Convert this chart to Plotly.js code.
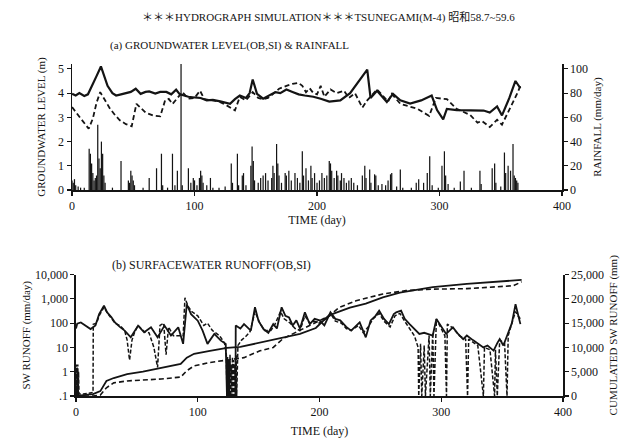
<!DOCTYPE html>
<html><head><meta charset="utf-8">
<script src="https://cdn.plot.ly/plotly-3.0.1.min.js"></script>
<style>html,body{margin:0;padding:0;background:#fff;}#chart{width:629px;height:440px;}</style>
</head><body><div id="chart"></div>
<script>
// ---------- (a) groundwater level (m) ----------
const gwObsDays = [0,3,6,10,13,16,20,23.6,26,29,33,36,40,44,48,52,56,60,63,68,72,77,81,85,88,90,95,100,105,110,115,121,126,129,133,137,142,145,147.5,151,156,161,166,170,175,180,185,190,197,203,210,219,227,241,243.7,249,257,262,268,276,285,293.6,298,303,306,314,325,336,341,347,351,357,362,366];
const gwObs = [3.97,3.9,4.0,3.88,3.95,4.3,4.7,5.1,4.7,4.3,4.0,3.9,3.95,4.0,4.05,4.18,3.97,4.05,4.07,3.98,4.05,4.05,3.95,4.14,3.95,3.92,3.85,3.82,3.8,3.7,3.72,3.66,3.6,3.56,3.75,3.9,3.8,4.0,4.56,3.97,3.77,3.9,4.04,4.0,4.15,4.05,3.95,3.9,3.85,3.77,3.65,3.7,4.0,4.97,3.8,4.1,3.63,3.97,3.7,3.57,3.7,3.9,3.3,2.92,3.35,3.3,3.28,3.28,3.2,3.45,3.08,3.8,4.5,4.2];
const gwSimDays = [0,4,7,10,13.6,17,20,23,27,31,35,39,44,48.7,52.6,56,60,66,72,76,79,82,86,90,95,100,104.5,108,115,121,126,133,137,142,147.5,152,156,160,165,169,175,180,185,188,191,194,197,200,203,206,211,216,222,226,231,237,241,249,258,261,268,282,291.6,297,306,314,325,331,334.6,341,347,351,363.6,366];
const gwSim = [3.42,3.15,2.95,2.75,2.53,2.95,3.6,4.04,3.7,3.36,3.1,2.88,2.72,2.63,3.56,3.4,3.2,3.08,3.04,3.7,3.76,3.55,3.8,4.04,3.77,3.8,4.1,3.75,3.7,3.63,3.5,3.29,3.84,3.7,4.04,3.8,3.75,3.8,4.0,4.18,4.3,4.38,4.42,4.3,4.04,4.2,4.0,3.95,4.3,3.85,4.15,4.0,4.1,3.8,4.0,3.4,3.7,4.15,3.65,3.97,3.56,3.35,3.06,3.8,3.75,3.35,3.1,2.78,2.85,2.6,2.9,2.7,4.0,4.3];
// rainfall (mm/day)
const rainDays = [0,1,2,3,5,7,10,14,15,16,17,18,19,20,21,22,23,24,25,26,27,33,40,46,47,48,49,50,51,58,63,69,73,74,78,82,84,86,89,90,95,97,99,100,102,104,105,106,107,110,113,115,120,125,130,131,135,136,139,140,142,146,147,148,149,152,154,156,158,160,163,164,165,167,168,169,171,174,175,177,179,182,184,186,188,189,191,193,195,196,198,200,202,204,206,208,210,211,212,214,216,217,219,220,222,224,226,228,230,233,237,239,240,243,244,247,248,250,253,256,258,260,261,265,268,270,277,281,283,287,290,292,294,299,302,304,305,307,312,317,320,326,333,334,343,345,346,350,353,354,356,358,360,361,362,363,364];
const rainVals = [8,6,9,4,3,2,2,34,30,22,14,8,10,12,54,26,18,40,30,12,6,2,24,8,6,16,12,8,4,2,10,18,30,4,2,30,4,16,104,4,18,6,10,8,4,10,16,12,6,4,10,2,2,3,22,6,30,4,12,14,4,20,36,24,8,6,10,12,14,8,10,20,14,38,22,12,6,14,12,16,8,14,10,6,32,12,18,8,20,10,14,6,8,14,10,12,24,22,16,10,16,12,8,14,10,6,8,10,6,4,12,20,10,17,6,13,12,4,5,4,8,13,14,3,17,2,2,6,9,6,14,28,4,2,20,32,12,5,2,7,16,2,16,5,18,22,6,3,31,14,20,16,38,12,10,8,6];

// ---------- (b) surface water runoff ----------
const roObsDays = [0,1,4,8,12,16,19,23,25.6,29,32,36,40,45,51,56,61.6,67,72.7,78,84,88,91,94.5,100,104,108,113.6,119,123,124,131,131.2,135,138,143.6,147,150,154,158,162,165,168.9,172,175,178,181,184,188,192,196,200,204,209,213,217,222,226,230,233,238,242,246,249,253,257,261,263,267,270,274,278,282,286,289,293,296,300,304,309.6,314,318,321,326,330,334.6,338,343,346,348,351,354,358,361,363,365];
const roObs = [60,95,107,80,57,80,235,520,275,180,107,70,49,26,79,42,67,26,79,31,67,14,600,235,126,49,14,36,19,14,0.1,0.1,80,60,91,49,450,120,57,40,91,60,450,200,170,80,130,60,280,91,150,130,80,280,150,130,70,49,80,107,26,130,200,325,150,91,235,280,325,150,91,60,36,40,36,31,148,70,36,67,35,22,31,20,15,10,12,7.4,15,22,12,31,100,600,250,91];
const roSimDays = [0,0.3,0.6,0.9,1.2,1.5,1.8,2.1,2.5,6,10,14,14.2,17,19,23,26,32,36,40,42,44,46,48,51,56,60,64,67,69,72,74,76,80,85,88,89.5,92,95,100,105,108,112,118,122,123.5,124,124.5,125,125.5,126,126.5,127,127.5,128,128.5,129,129.5,130,130.5,131,131.5,132,133,136,140,143,147,151,155,160,163,168,171,176,180,184,188,192,196,200,205,209,213,218,222,226,232,236,240,244,249,253,258,262,266,270,274,278,281,281.5,283,284,286,287,290,291,293,294,296,300,303,304.3,305,310,315,320,321.6,322.5,330,334.6,335.5,340,343.8,344.5,346,348,352,354,355,358,361,363,365];
const roSim = [0.1,2,0.1,1.5,0.1,2,0.1,1,0.12,0.12,0.13,0.14,90,100,200,450,250,100,80,50,20,3,20,40,80,45,40,10,1.5,80,100,5,70,30,30,30,1100,500,300,200,80,100,50,30,15,5,0.1,4,0.1,3,0.1,5,0.1,2,0.1,4,0.1,3,0.1,2,0.1,5,0.1,12,20,30,45,300,100,50,50,80,300,150,100,60,50,200,100,120,100,150,250,120,100,60,50,80,40,70,150,250,120,70,200,250,120,60,30,10,0.1,14,0.1,12,0.1,31,0.1,40,0.1,148,60,30,0.1,91,60,30,22,0.1,22,12,0.1,10,8,0.1,8,0.1,20,15,0.1,31,100,300,200,150];
// cumulated runoff (mm)
const cumObsDays = [0,7,14,20,25,31,42,55,67,86,91,97,110,124,135,151,165,184,197,206,211,225,238,252,266,280,293,321,348,366];
const cumObs = [0,150,400,1000,3100,3700,4500,5000,5600,6600,7900,8700,9300,9900,10100,11000,11800,12800,14000,16200,16900,18200,19000,20300,21300,21900,22400,23100,23600,23900];
const cumSimDays = [0,14,20,25,31,42,70,86,91,97,110,124,138,151,162,170,189,208,216,230,252,271,293,321,359,366];
const cumSim = [0,0,200,1700,2700,3100,3500,3900,5200,6200,6900,7400,7900,9300,10000,11800,14100,16500,18200,19600,21000,21700,22000,22100,22700,23500];

// tick labels
const xTicks = [0,100,200,300,400];
const gwTicks = [0,1,2,3,4,5];
const rainTicks = [0,20,40,60,80,100];
const roTickVals = [0.1,1,10,100,1000,10000];
const roTickText = ['.1','1','10','100','1,000','10,000'];
const cumTickVals = [0,5000,10000,15000,20000,25000];
const cumTickText = ['0','5,000','10,000','15,000','20,000','25,000'];

const INK = '#141414';
const FONT = 'Liberation Serif, DejaVu Serif, serif';

const traces = [
  {x: rainDays, y: rainVals, type:'bar', xaxis:'x', yaxis:'y2', width:1.0, marker:{color:INK, line:{width:0}}, hoverinfo:'skip'},
  {x: gwObsDays, y: gwObs, type:'scatter', mode:'lines', xaxis:'x', yaxis:'y', line:{color:INK, width:2.2}},
  {x: gwSimDays, y: gwSim, type:'scatter', mode:'lines', xaxis:'x', yaxis:'y', line:{color:INK, width:1.8, dash:'5px,3px'}},
  {x: roObsDays, y: roObs, type:'scatter', mode:'lines', xaxis:'x2', yaxis:'y3', line:{color:INK, width:1.8}},
  {x: roSimDays, y: roSim, type:'scatter', mode:'lines', xaxis:'x2', yaxis:'y3', line:{color:INK, width:1.5, dash:'4px,2px'}},
  {x: cumObsDays, y: cumObs, type:'scatter', mode:'lines', xaxis:'x2', yaxis:'y4', line:{color:INK, width:1.8}},
  {x: cumSimDays, y: cumSim, type:'scatter', mode:'lines', xaxis:'x2', yaxis:'y4', line:{color:INK, width:1.6, dash:'5px,3px'}}
];

const axBase = {showgrid:false, zeroline:false, showline:true, linecolor:INK, linewidth:1.5,
  ticks:'outside', ticklen:4, tickwidth:1.2, tickcolor:INK, tickfont:{family:FONT, size:12, color:INK}};

const layout = {
  width:629, height:440, margin:{l:0,r:0,t:0,b:0}, paper_bgcolor:'#fff', plot_bgcolor:'rgba(0,0,0,0)',
  showlegend:false, font:{family:FONT, color:INK},
  title:{text:'＊＊＊HYDROGRAPH SIMULATION＊＊＊TSUNEGAMI(M-4) 昭和58.7~59.6', x:0.522, xanchor:'center', y:0.962, yanchor:'middle',
         font:{family:'Liberation Serif, Noto Sans CJK JP, serif', size:11, color:INK}},
  xaxis: Object.assign({}, axBase, {domain:[0.1145,0.8935], range:[0,400], anchor:'y', tickvals:xTicks,
         title:{text:'TIME (day)', font:{family:FONT,size:12,color:INK}, standoff:0}}),
  yaxis: Object.assign({}, axBase, {domain:[0.568,0.8545], range:[0,5.2], anchor:'x', tickvals:gwTicks,
         title:{text:'GROUNDWATER LEVEL (m)', font:{family:FONT,size:11,color:INK}, standoff:10}}),
  yaxis2: Object.assign({}, axBase, {overlaying:'y', side:'right', range:[0,104], anchor:'x', tickvals:rainTicks,
         title:{text:'RAINFALL (mm/day)', font:{family:FONT,size:11,color:INK}, standoff:6}}),
  xaxis2: Object.assign({}, axBase, {domain:[0.1208,0.8951], range:[0,400], anchor:'y3', tickvals:xTicks,
         title:{text:'TIME (day)', font:{family:FONT,size:12,color:INK}, standoff:8}}),
  yaxis3: Object.assign({}, axBase, {domain:[0.1,0.376], type:'log', range:[-1,4], anchor:'x2', tickvals:roTickVals, ticktext:roTickText,
         title:{text:'SW RUNOFF (mm/day)', font:{family:FONT,size:11,color:INK}, standoff:2}}),
  yaxis4: Object.assign({}, axBase, {overlaying:'y3', side:'right', range:[0,25000], anchor:'x2', tickvals:cumTickVals, ticktext:cumTickText,
         title:{text:'CUMULATED SW RUNOFF (mm)', font:{family:FONT,size:11,color:INK}, standoff:6}}),
  annotations:[
    {text:'(a) GROUNDWATER LEVEL(OB,SI) & RAINFALL', xref:'paper', yref:'paper', x:0.172, y:0.897, xanchor:'left', yanchor:'middle', showarrow:false,
     font:{family:FONT, size:11, color:INK}},
    {text:'(b) SURFACEWATER RUNOFF(OB,SI)', xref:'paper', yref:'paper', x:0.175, y:0.397, xanchor:'left', yanchor:'middle', showarrow:false,
     font:{family:FONT, size:12, color:INK}}
  ]
};

Plotly.newPlot('chart', traces, layout, {staticPlot:true, displayModeBar:false});
</script></body></html>
